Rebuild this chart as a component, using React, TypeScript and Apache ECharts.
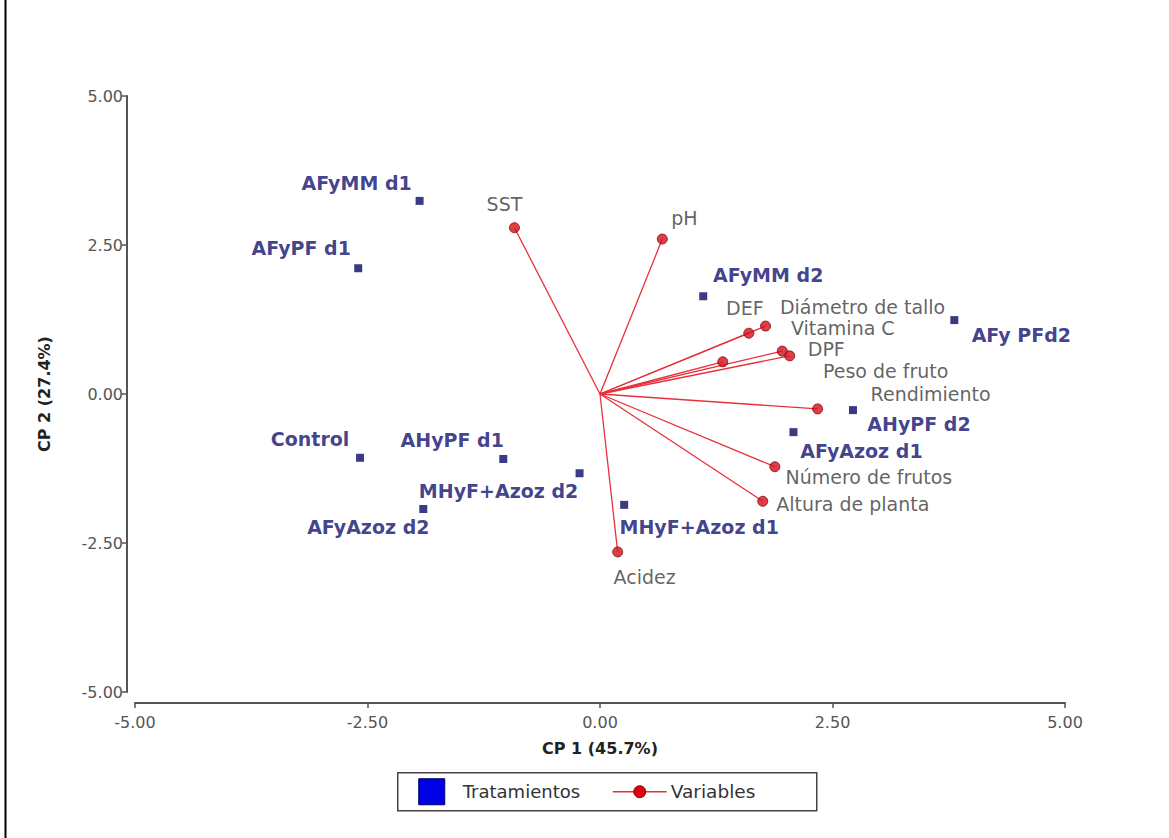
import React, { useEffect, useRef } from "react";
import * as echarts from "echarts";

// Treatments (blue squares)
const treatmentNames = [
  "AFyMM d1", "AFyPF d1", "Control", "AFyAzoz d2", "AHyPF d1", "MHyF+Azoz d2",
  "MHyF+Azoz d1", "AFyMM d2", "AFy PFd2", "AHyPF d2", "AFyAzoz d1",
];
const treatmentX = [-1.94, -2.6, -2.58, -1.9, -1.04, -0.22, 0.26, 1.11, 3.81, 2.72, 2.08];
const treatmentY = [3.24, 2.11, -1.07, -1.93, -1.09, -1.33, -1.86, 1.64, 1.24, -0.27, -0.64];

// Variables (red circles with vectors from origin)
const variableNames = [
  "SST", "pH", "DEF", "Diámetro de tallo", "Vitamina C", "DPF",
  "Peso de fruto", "Rendimiento", "Número de frutos", "Altura de planta", "Acidez",
];
const variableX = [-0.92, 0.67, 1.6, 1.78, 1.32, 1.96, 2.04, 2.34, 1.88, 1.75, 0.19];
const variableY = [2.79, 2.6, 1.02, 1.14, 0.54, 0.72, 0.64, -0.25, -1.22, -1.8, -2.65];

// Axis ticks
const axisMin = -5;
const axisMax = 5;
const axisStep = 2.5;

// Label offsets (style only)
const treatmentLabelOffsets: number[][] = [
  [-63, -18], [-57, -20], [-50, -19], [-55, 18], [-51, -19], [-81, 18],
  [75, 22], [65, -21], [67, 15], [66, 14], [68, 19],
];
const variableLabelOffsets: number[][] = [
  [-10, -24], [22, -21], [-4, -25], [97, -19], [120, -34], [44, -2],
  [96, 15], [113, -15], [94, 10], [90, 3], [27, 25],
];

const FONT = "DejaVu Sans, Verdana, sans-serif";

export default function App() {
  const ref = useRef<HTMLDivElement>(null);
  useEffect(() => {
    if (!ref.current) return;
    const chart = echarts.init(ref.current, undefined, { renderer: "svg" });

    const treatData = treatmentNames.map((n, i) => ({
      name: n,
      value: [treatmentX[i], treatmentY[i]],
      label: { offset: treatmentLabelOffsets[i] },
    }));
    const varData = variableNames.map((n, i) => ({
      name: n,
      value: [variableX[i], variableY[i]],
      label: { offset: variableLabelOffsets[i] },
    }));
    const vecData = variableNames.map((n, i) => ({
      coords: [[0, 0], [variableX[i], variableY[i]]],
    }));

    const axisCommon = {
      type: "value" as const,
      min: axisMin,
      max: axisMax,
      interval: axisStep,
      splitLine: { show: false },
      axisLine: { show: true, onZero: false, lineStyle: { color: "#555", width: 2 } },
      axisTick: { show: true, length: 5, lineStyle: { color: "#555", width: 1.5 } },
      axisLabel: {
        color: "#555",
        fontSize: 16,
        fontFamily: FONT,
        formatter: (v: number) => v.toFixed(2),
      },
      nameTextStyle: { color: "#222", fontSize: 16, fontWeight: "bold" as const, fontFamily: FONT },
    };

    chart.setOption({
      animation: false,
      backgroundColor: "#ffffff",
      grid: { left: 135, right: 104, top: 96, bottom: 146 },
      xAxis: {
        ...axisCommon,
        offset: 11,
        name: "CP 1 (45.7%)",
        nameLocation: "middle",
        nameGap: 37,
        axisLabel: { ...axisCommon.axisLabel, margin: 11 },
      },
      yAxis: {
        ...axisCommon,
        offset: 8,
        name: "CP 2 (27.4%)",
        nameLocation: "middle",
        nameGap: 75,
        axisLabel: { ...axisCommon.axisLabel, margin: 4 },
      },
      series: [
        {
          type: "lines",
          coordinateSystem: "cartesian2d",
          data: vecData,
          symbol: "none",
          lineStyle: { color: "#e8303a", width: 1.3, opacity: 1 },
          silent: true,
          z: 2,
        },
        {
          type: "scatter",
          name: "Variables",
          data: varData,
          symbol: "circle",
          symbolSize: 10,
          itemStyle: { color: "#d40f1a", borderColor: "#7a0a0a", borderWidth: 1 },
          label: {
            show: true,
            position: "inside",
            formatter: "{b}",
            color: "#3a3a3a",
            fontSize: 19,
            fontFamily: FONT,
            align: "center",
            verticalAlign: "middle",
          },
          z: 4,
        },
        {
          type: "scatter",
          name: "Tratamientos",
          data: treatData,
          symbol: "rect",
          symbolSize: 8,
          itemStyle: { color: "#0a0a66" },
          label: {
            show: true,
            position: "inside",
            formatter: "{b}",
            color: "#101070",
            fontSize: 19,
            fontWeight: "bold",
            fontFamily: FONT,
            align: "center",
            verticalAlign: "middle",
          },
          z: 5,
        },
      ],
      graphic: [
        {
          type: "line",
          shape: { x1: 5.5, y1: 0, x2: 5.5, y2: 838 },
          style: { stroke: "#000", lineWidth: 2 },
        },
        {
          type: "group",
          left: 397,
          top: 772,
          children: [
            {
              type: "rect",
              shape: { x: 0, y: 0, width: 419, height: 38 },
              style: { fill: "#fff", stroke: "#444", lineWidth: 1.5 },
            },
            {
              type: "rect",
              shape: { x: 21, y: 6, width: 26, height: 26 },
              style: { fill: "#0000e6", stroke: "#000060", lineWidth: 1 },
            },
            {
              type: "text",
              style: {
                x: 65, y: 19, text: "Tratamientos", fill: "#333", fontSize: 18,
                fontFamily: FONT, verticalAlign: "middle",
              },
            },
            {
              type: "line",
              shape: { x1: 215, y1: 19, x2: 269, y2: 19 },
              style: { stroke: "#e8303a", lineWidth: 1.3 },
            },
            {
              type: "circle",
              shape: { cx: 242, cy: 19, r: 6 },
              style: { fill: "#e00010", stroke: "#7a0a0a", lineWidth: 1 },
            },
            {
              type: "text",
              style: {
                x: 273, y: 19, text: "Variables", fill: "#333", fontSize: 18.5,
                fontFamily: FONT, verticalAlign: "middle",
              },
            },
          ],
        },
      ],
    });
    return () => chart.dispose();
  }, []);
  return (
    <div
      ref={ref}
      style={{ position: "fixed", left: 0, top: 0, width: 1169, height: 838 }}
    />
  );
}
